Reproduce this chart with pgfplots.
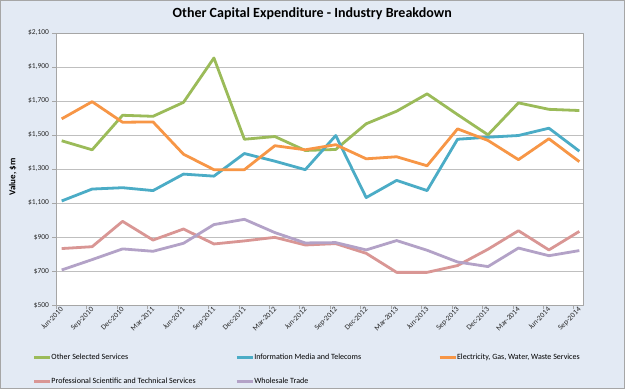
\documentclass[border=0pt]{standalone}
\usepackage{pgfplots}
\usepackage{pgfplotstable}
\pgfplotsset{compat=1.18}
\usepackage{fontspec}
\setmainfont{Carlito}
\definecolor{bg}{RGB}{227,234,244}
\definecolor{cgreen}{HTML}{9BBB59}
\definecolor{cblue}{HTML}{4BACC6}
\definecolor{corange}{HTML}{F79646}
\definecolor{cpink}{HTML}{D99694}
\definecolor{cpurple}{HTML}{B3A2C7}
\definecolor{gridc}{HTML}{BFBFBF}
\definecolor{axc}{HTML}{A6A6A6}
\pgfplotstableread{
idx green blue orange pink purple
0  1466 1112 1595 832 706
1  1413 1182 1696 843 767
2  1616 1190 1575 992 830
3  1610 1173 1577 882 816
4  1692 1270 1387 947 863
5  1953 1258 1296 859 973
6  1475 1391 1296 877 1004
7  1491 1346 1437 898 926
8  1409 1296 1413 853 865
9  1415 1497 1443 861 867
10 1566 1132 1360 804 824
11 1640 1233 1372 692 879
12 1742 1173 1319 692 822
13 1620 1475 1536 732 753
14 1501 1487 1468 828 726
15 1689 1497 1355 937 835
16 1651 1540 1478 824 790
17 1644 1405 1343 933 820
}\datatable
\begin{document}
\begin{tikzpicture}[x=1pt,y=1pt]
\fill[bg] (0,0) rectangle (625,389);
\draw[axc, line width=1pt] (0.5,0.5) rectangle (624.5,388.5);
\begin{axis}[
  at={(56.2pt,84pt)}, anchor=south west,
  width=526.8pt, height=272pt, scale only axis,
  axis background/.style={fill=white},
  xmin=-0.18, xmax=17.12,
  ymin=500, ymax=2100,
  ytick={500,700,900,1100,1300,1500,1700,1900,2100},
  yticklabels={\$500,\$700,\$900,{\$1,100},{\$1,300},{\$1,500},{\$1,700},{\$1,900},{\$2,100}},
  xtick={-0.18,0.82,1.82,2.82,3.82,4.82,5.82,6.82,7.82,8.82,9.82,10.82,11.82,12.82,13.82,14.82,15.82,16.82},
  xticklabels={Jun-2010,Sep-2010,Dec-2010,Mar-2011,Jun-2011,Sep-2011,Dec-2011,Mar-2012,Jun-2012,Sep-2012,Dec-2012,Mar-2013,Jun-2013,Sep-2013,Dec-2013,Mar-2014,Jun-2014,Sep-2014},
  ymajorgrids,
  major grid style={gridc, line width=0.8pt},
  axis line style={axc, line width=0.8pt},
  tick align=outside, tick pos=left,
  major tick style={axc, line width=0.8pt},
  major tick length=4pt,
  yticklabel style={font=\fontsize{7.5}{9}\selectfont, color=black!85, inner sep=1pt, xshift=-2pt},
  xticklabel style={font=\fontsize{7.5}{9}\selectfont, color=black!85, rotate=45, anchor=north east, inner sep=1pt, xshift=5.5pt},
  ylabel={\textbf{Value, \$m}},
  ylabel style={font=\fontsize{9}{10}\selectfont, at={(axis description cs:-0.0825,0.47)}, anchor=center},
  title={\textbf{Other Capital Expenditure - Industry Breakdown}},
  title style={font=\fontsize{14}{16}\selectfont, at={(axis description cs:0.486,1)}, anchor=center, yshift=13pt},
  legend columns=3,
  legend cell align=left,
  legend image code/.code={\draw[#1, line width=2.8pt] (0pt,0pt) -- (16pt,0pt);},
  legend style={draw=none, fill=none, inner sep=0pt, font=\fontsize{8}{9.5}\selectfont,
    at={(axis description cs:-0.045,-0.18)}, anchor=north west,
    row sep=17pt, nodes={inner sep=0pt}},
  line join=round,
  every axis plot/.append style={line width=2.8pt, mark=none},
]
\addplot[cgreen] table[x=idx,y=green]{\datatable};
\addlegendentry{\makebox[184pt][l]{Other Selected Services}}
\addplot[cblue] table[x=idx,y=blue]{\datatable};
\addlegendentry{\makebox[184pt][l]{Information Media and Telecoms}}
\addplot[corange] table[x=idx,y=orange]{\datatable};
\addlegendentry{Electricity, Gas, Water, Waste Services}
\addplot[cpink] table[x=idx,y=pink]{\datatable};
\addlegendentry{\makebox[184pt][l]{Professional Scientific and Technical Services}}
\addplot[cpurple] table[x=idx,y=purple]{\datatable};
\addlegendentry{Wholesale Trade}
\end{axis}
\pgfresetboundingbox
\useasboundingbox (0,0) rectangle (625,389);
\end{tikzpicture}
\end{document}
